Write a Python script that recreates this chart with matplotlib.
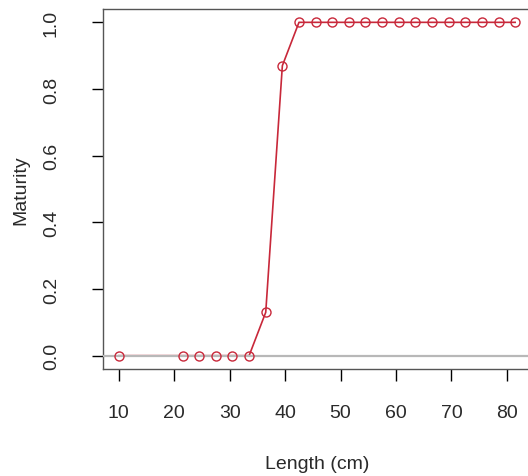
import numpy as np
import matplotlib
matplotlib.use("Agg")
import matplotlib.pyplot as plt

# maturity-at-length
length = [10, 21.5, 24.5, 27.5, 30.5, 33.5, 36.5, 39.5, 42.5, 45.5, 48.5, 51.5,
          54.5, 57.5, 60.5, 63.5, 66.5, 69.5, 72.5, 75.5, 78.5, 81.5]
maturity = [0, 0, 0, 0, 0, 0, 0.13, 0.87, 1, 1, 1, 1,
            1, 1, 1, 1, 1, 1, 1, 1, 1, 1]
xticks = [10, 20, 30, 40, 50, 60, 70, 80]
yticks = [0.0, 0.2, 0.4, 0.6, 0.8, 1.0]

RED = '#c8283a'
fs = 14
plt.rcParams.update({
    "font.family": ["Liberation Sans", "DejaVu Sans"],
    "font.size": fs,
})

fig = plt.figure(figsize=(5.28, 4.77), dpi=100)
ax = fig.add_axes([103 / 528, 107 / 477, 428 / 528, 360 / 477])

ax.plot(length, maturity, color=RED, linewidth=1.2, zorder=2)
ax.axhline(0, color='#b8b8b8', linewidth=1.6, zorder=3)
ax.plot(length, maturity, linestyle='none', marker='o', markersize=6.5,
        markerfacecolor='none', markeredgecolor=RED, markeredgewidth=1.0,
        zorder=4)

x_pad = 0.04 * (max(length) - min(length))
ax.set_xlim(min(length) - x_pad, max(length) + x_pad)
ax.set_ylim(-0.04, 1.04)
ax.set_xticks(xticks)
ax.set_yticks(yticks)
ax.set_xticklabels([str(t) for t in xticks])
ax.set_yticklabels([f"{t:.1f}" for t in yticks], rotation=90, va='center')

ax.tick_params(axis='x', length=8.5, width=1.0, pad=17, labelsize=fs,
               labelcolor='#2a2a2a')
ax.tick_params(axis='y', length=8, width=1.0, pad=23, labelsize=fs,
               labelcolor='#2a2a2a')
for sp in ax.spines.values():
    sp.set_color('#555555')
    sp.set_linewidth(1.0)

ax.set_xlabel('Length (cm)', labelpad=24, color='#2a2a2a')
ax.set_ylabel('Maturity', labelpad=10, color='#2a2a2a')

fig.savefig('out.png', dpi=100)
